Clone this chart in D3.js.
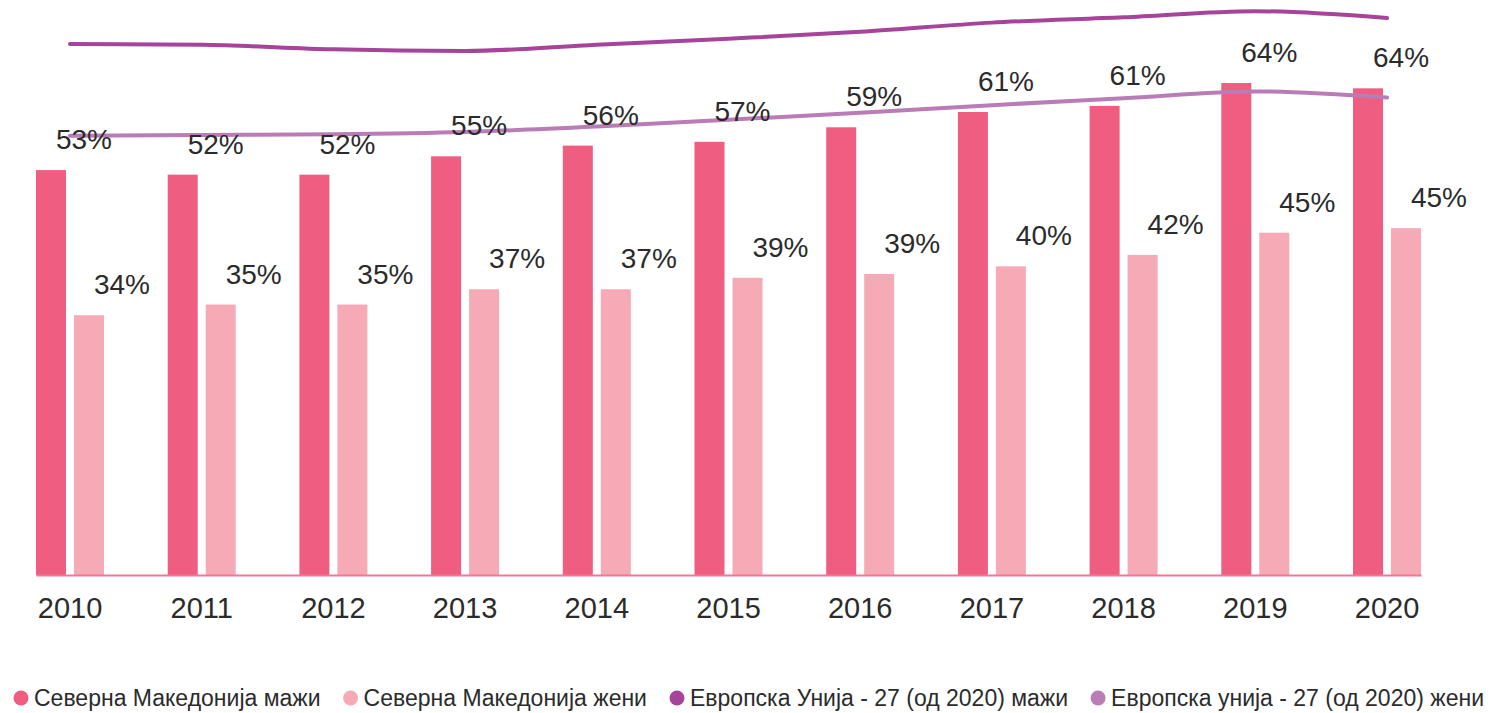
<!DOCTYPE html>
<html>
<head>
<meta charset="utf-8">
<script src="https://cdn.jsdelivr.net/npm/d3@7"></script>
<style>
  body { margin: 0; background: #fff; }
  svg { display: block; }
  text { font-family: "Liberation Sans", Arial, sans-serif; fill: #2b2b2b; }
</style>
</head>
<body>
<div id="chart"></div>
<script>
// Years on the x axis
const years = ['2010', '2011', '2012', '2013', '2014', '2015', '2016', '2017', '2018', '2019', '2020'];

// North Macedonia (bars)
const mkMen = [53.0, 52.4, 52.4, 54.8, 56.2, 56.7, 58.6, 60.6, 61.4, 64.4, 63.7];
const mkWomen = [34.0, 35.4, 35.4, 37.4, 37.4, 38.9, 39.4, 40.4, 41.9, 44.8, 45.4];
const mkMenLabels = ['53%', '52%', '52%', '55%', '56%', '57%', '59%', '61%', '61%', '64%', '64%'];
const mkWomenLabels = ['34%', '35%', '35%', '37%', '37%', '39%', '39%', '40%', '42%', '45%', '45%'];

// EU-27 (lines)
const euMen = [69.5, 69.4, 68.8, 68.6, 69.4, 70.2, 71.1, 72.3, 73.0, 73.8, 72.9];
const euWomen = [57.5, 57.6, 57.7, 58.0, 58.7, 59.6, 60.5, 61.5, 62.4, 63.3, 62.5];

const legendLabels = [
  'Северна Македонија мажи',
  'Северна Македонија жени',
  'Европска Унија - 27 (од 2020) мажи',
  'Европска унија - 27 (од 2020) жени'
];
const colors = ['#ef5d80', '#f5aab6', '#a6439b', '#b97cb6'];

const width = 1491;
const height = 713;

const svg = d3.select('#chart')
  .append('svg')
  .attr('width', width)
  .attr('height', height);

const x = d3.scaleBand()
  .domain(years)
  .range([36, 1421])
  .paddingInner(0.4837)
  .paddingOuter(0);

const sub = d3.scaleBand()
  .domain(['men', 'women'])
  .range([0, x.bandwidth()])
  .paddingInner(0.21);

const y = d3.scaleLinear()
  .domain([0, 100])
  .range([575, -189]);

const rows = years.map((yr, i) => ({
  year: yr,
  men: mkMen[i],
  women: mkWomen[i],
  menLabel: mkMenLabels[i],
  womenLabel: mkWomenLabels[i],
  euMen: euMen[i],
  euWomen: euWomen[i]
}));

// Bars
const groups = svg.selectAll('.group')
  .data(rows)
  .enter().append('g')
  .attr('class', 'group')
  .attr('transform', d => `translate(${x(d.year)},0)`);

groups.append('rect')
  .attr('x', sub('men'))
  .attr('y', d => y(d.men))
  .attr('width', sub.bandwidth())
  .attr('height', d => y(0) - y(d.men))
  .attr('fill', colors[0]);

groups.append('rect')
  .attr('x', sub('women'))
  .attr('y', d => y(d.women))
  .attr('width', sub.bandwidth())
  .attr('height', d => y(0) - y(d.women))
  .attr('fill', colors[1]);

// X axis
const xAxis = svg.append('g')
  .attr('transform', `translate(0, ${y(0)})`)
  .call(d3.axisBottom(x).tickSize(0).tickPadding(22));

xAxis.select('.domain')
  .attr('stroke', '#f07896')
  .attr('stroke-width', 2);

xAxis.selectAll('text')
  .style('font-size', '29px')
  .style('font-family', '"Liberation Sans", Arial, sans-serif')
  .attr('fill', '#2b2b2b');

// EU lines
const cx = d => x(d.year) + x.bandwidth() / 2;

const lineMen = d3.line()
  .x(cx)
  .y(d => y(d.euMen))
  .curve(d3.curveMonotoneX);

const lineWomen = d3.line()
  .x(cx)
  .y(d => y(d.euWomen))
  .curve(d3.curveMonotoneX);

svg.append('path')
  .datum(rows)
  .attr('d', lineWomen)
  .attr('fill', 'none')
  .attr('stroke', colors[3])
  .attr('stroke-width', 4)
  .attr('stroke-linecap', 'round');

svg.append('path')
  .datum(rows)
  .attr('d', lineMen)
  .attr('fill', 'none')
  .attr('stroke', colors[2])
  .attr('stroke-width', 4)
  .attr('stroke-linecap', 'round');

// Value labels
const labelShift = 33;

svg.selectAll('.label-men')
  .data(rows)
  .enter().append('text')
  .attr('class', 'label-men')
  .attr('x', d => x(d.year) + sub('men') + sub.bandwidth() / 2 + labelShift)
  .attr('y', d => y(d.men) - 21)
  .attr('text-anchor', 'middle')
  .style('font-size', '28px')
  .text(d => d.menLabel);

svg.selectAll('.label-women')
  .data(rows)
  .enter().append('text')
  .attr('class', 'label-women')
  .attr('x', d => x(d.year) + sub('women') + sub.bandwidth() / 2 + labelShift)
  .attr('y', d => y(d.women) - 21)
  .attr('text-anchor', 'middle')
  .style('font-size', '28px')
  .text(d => d.womenLabel);

// Legend
const legend = svg.append('g')
  .attr('transform', 'translate(0, 698)');

let lx = 21;
legendLabels.forEach((label, i) => {
  const item = legend.append('g').attr('transform', `translate(${lx},0)`);
  item.append('circle')
    .attr('r', 7.5)
    .attr('fill', colors[i]);
  const t = item.append('text')
    .attr('x', 13)
    .attr('y', 8)
    .style('font-size', '23px')
    .text(label);
  lx += 13 + t.node().getComputedTextLength() + 30;
});
</script>
</body>
</html>
